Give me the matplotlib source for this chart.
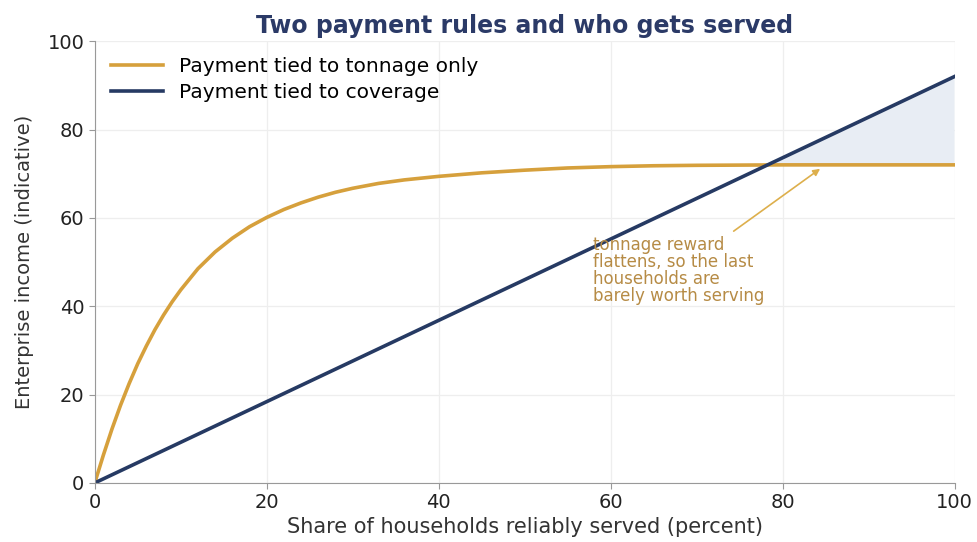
import matplotlib.pyplot as plt
import numpy as np

# values
share = [0, 1, 2, 3, 4, 5, 6, 7, 8, 9, 10, 12, 14, 16, 18, 20, 22, 24, 26,
         28, 30, 33, 36, 40, 45, 50, 55, 60, 65, 70, 75, 80, 90, 100]
tonnage = [0, 6.3, 12.2, 17.6, 22.5, 27, 31, 34.7, 38, 41, 43.7, 48.5, 52.3,
           55.4, 58.0, 60.1, 61.9, 63.4, 64.7, 65.8, 66.7, 67.8, 68.6, 69.4,
           70.2, 70.8, 71.3, 71.6, 71.8, 71.9, 71.95, 72, 72, 72]
coverage_share = [0, 100]
coverage = [0, 92]

gold = '#D6A03C'
navy = '#263A63'

fig = plt.figure(figsize=(9.77, 5.42), dpi=100)
ax = fig.add_axes([0.097, 0.109, 0.88, 0.815])

x = np.array(share, dtype=float)
cov_on_x = np.interp(x, coverage_share, coverage)
ton = np.array(tonnage)
ax.fill_between(x, ton, cov_on_x, where=cov_on_x >= ton, interpolate=True,
                color='#E8EDF4', linewidth=0)

ax.plot(share, tonnage, color=gold, lw=2.6, label='Payment tied to tonnage only')
ax.plot(coverage_share, coverage, color=navy, lw=2.6, label='Payment tied to coverage')

ax.annotate('tonnage reward\nflattens, so the last\nhouseholds are\nbarely worth serving',
            xy=(84.5, 71.3), xytext=(58, 56), fontsize=12, color='#B68B45',
            va='top', ha='left', linespacing=0.95,
            arrowprops=dict(arrowstyle='-|>', color='#DDAF4C', lw=1.2,
                            mutation_scale=10, shrinkA=2, shrinkB=1))

ax.set_xlim(0, 100)
ax.set_ylim(0, 100)
ax.set_xticks([0, 20, 40, 60, 80, 100])
ax.set_yticks([0, 20, 40, 60, 80, 100])
ax.grid(True, color='#EEEEEE', lw=0.9)
ax.set_axisbelow(True)
for s in ['top', 'right']:
    ax.spines[s].set_visible(False)
for s in ['left', 'bottom']:
    ax.spines[s].set_color('#999999')
ax.tick_params(labelsize=14, length=4, colors='#999999', labelcolor='#222222')

ax.set_xlabel('Share of households reliably served (percent)', fontsize=15,
              color='#333333', labelpad=3)
ax.set_ylabel('Enterprise income (indicative)', fontsize=14, color='#333333',
              labelpad=10)
ax.set_title('Two payment rules and who gets served', fontsize=17, fontweight='bold',
             color='#2B3A67', pad=6)

ax.legend(loc='upper left', fontsize=14.5, frameon=False, handlelength=2.6,
          borderaxespad=0.4, labelspacing=0.35)

fig.savefig('out.png', dpi=100)
